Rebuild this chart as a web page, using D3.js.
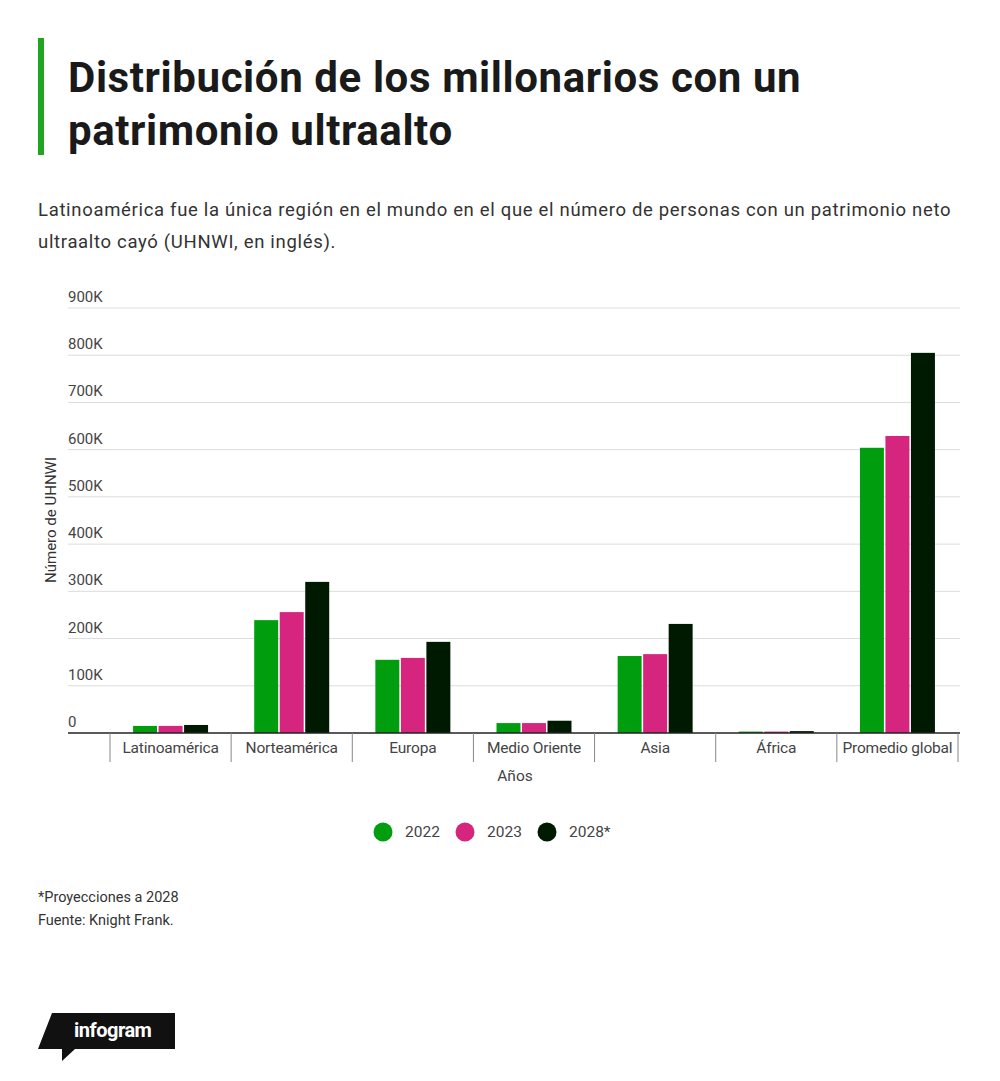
<!DOCTYPE html>
<html lang="es">
<head>
<meta charset="UTF-8" />
<script src="https://d3js.org/d3.v7.min.js"></script>
<style>
  body { margin: 0; background: #fff; font-family: Roboto, sans-serif; }
  text { font-family: Roboto, sans-serif; }
</style>
</head>
<body>
<svg id="chart" width="1000" height="1081"></svg>
<script>
const categories = ["Latinoamérica", "Norteamérica", "Europa", "Medio Oriente", "Asia", "África", "Promedio global"];
const years = ["2022", "2023", "2028*"];
const values2022 = [15000, 239000, 155000, 21000, 163000, 3000, 604000];
const values2023 = [15000, 256000, 159000, 21000, 167000, 3000, 629000];
const values2028 = [17000, 320000, 193000, 26000, 231000, 4000, 805000];
const yTicks = [0, 100000, 200000, 300000, 400000, 500000, 600000, 700000, 800000, 900000];
const colors = ["#009e0f", "#d5257f", "#001a02"];

const series = [values2022, values2023, values2028];
const svg = d3.select("#chart");

// header
svg.append("rect").attr("x", 38).attr("y", 38).attr("width", 6).attr("height", 117).attr("fill", "#1fa51f");
const title = svg.append("text").attr("x", 68).attr("font-size", 42).attr("font-weight", 700)
  .attr("fill", "#1a1a1a").attr("letter-spacing", 0.6);
title.append("tspan").attr("x", 68).attr("y", 92).text("Distribución de los millonarios con un");
title.append("tspan").attr("x", 68).attr("y", 145).text("patrimonio ultraalto");
const sub = svg.append("text").attr("font-size", 18.5).attr("fill", "#333").attr("letter-spacing", 0.68);
sub.append("tspan").attr("x", 38).attr("y", 216).text("Latinoamérica fue la única región en el mundo en el que el número de personas con un patrimonio neto");
sub.append("tspan").attr("x", 38).attr("y", 248).text("ultraalto cayó (UHNWI, en inglés).");

// scales
const y = d3.scaleLinear().domain([0, 900000]).range([733, 308]);
const x = d3.scaleBand().domain(categories).range([110, 958]);
const sub_x = d3.scaleBand().domain(d3.range(3)).range([0, 75]).paddingInner(0.06);

// grid + y labels
svg.append("g").selectAll("line").data(yTicks.slice(1)).join("line")
  .attr("x1", 68).attr("x2", 960).attr("y1", d => y(d)).attr("y2", d => y(d))
  .attr("stroke", "#dcdcdc");
svg.append("g").selectAll("text").data(yTicks).join("text")
  .attr("x", 68).attr("y", d => y(d) - 6).attr("font-size", 15).attr("fill", "#444")
  .text(d => d === 0 ? "0" : d / 1000 + "K");

svg.append("text").attr("transform", "translate(56,520) rotate(-90)")
  .attr("text-anchor", "middle").attr("font-size", 15).attr("fill", "#333").text("Número de UHNWI");

// bars
const groups = svg.append("g").selectAll("g").data(categories).join("g")
  .attr("transform", c => `translate(${x(c) + (x.bandwidth() - 75) / 2},0)`);
groups.selectAll("rect").data((c, i) => series.map((s, k) => ({ k, v: s[i] }))).join("rect")
  .attr("x", d => sub_x(d.k)).attr("width", sub_x.bandwidth())
  .attr("y", d => y(d.v)).attr("height", d => y(0) - y(d.v))
  .attr("fill", d => colors[d.k]);

// x axis
svg.append("line").attr("x1", 68).attr("x2", 960).attr("y1", 733).attr("y2", 733).attr("stroke", "#222").attr("stroke-width", 1.5);
svg.append("g").selectAll("line").data(categories.concat([null])).join("line")
  .attr("x1", (c, i) => 110 + i * x.step()).attr("x2", (c, i) => 110 + i * x.step())
  .attr("y1", 733).attr("y2", 762).attr("stroke", "#888");
svg.append("g").selectAll("text").data(categories).join("text")
  .attr("x", c => x(c) + x.bandwidth() / 2).attr("y", 753).attr("text-anchor", "middle")
  .attr("font-size", 15.5).attr("fill", "#444").attr("letter-spacing", -0.2).text(c => c);
svg.append("text").attr("x", 515).attr("y", 781).attr("text-anchor", "middle")
  .attr("font-size", 15.5).attr("fill", "#444").text("Años");

// legend
const legX = [383, 465, 547];
years.forEach((yr, k) => {
  svg.append("circle").attr("cx", legX[k]).attr("cy", 832).attr("r", 9.5).attr("fill", colors[k]);
  svg.append("text").attr("x", legX[k] + 22).attr("y", 837).attr("font-size", 15.5).attr("fill", "#444").text(yr);
});

// footer
svg.append("text").attr("x", 38).attr("y", 902).attr("font-size", 14.5).attr("fill", "#333").text("*Proyecciones a 2028");
svg.append("text").attr("x", 38).attr("y", 925).attr("font-size", 14.5).attr("fill", "#333").text("Fuente: Knight Frank.");

// infogram badge
svg.append("path").attr("d", "M52,1013 L175,1013 L175,1049 L75,1049 L62,1061 L62,1049 L38,1049 Z").attr("fill", "#111");
svg.append("text").attr("x", 74).attr("y", 1037).attr("font-size", 20).attr("font-weight", 700)
  .attr("fill", "#fff").attr("letter-spacing", -0.5).text("infogram");
</script>
</body>
</html>
